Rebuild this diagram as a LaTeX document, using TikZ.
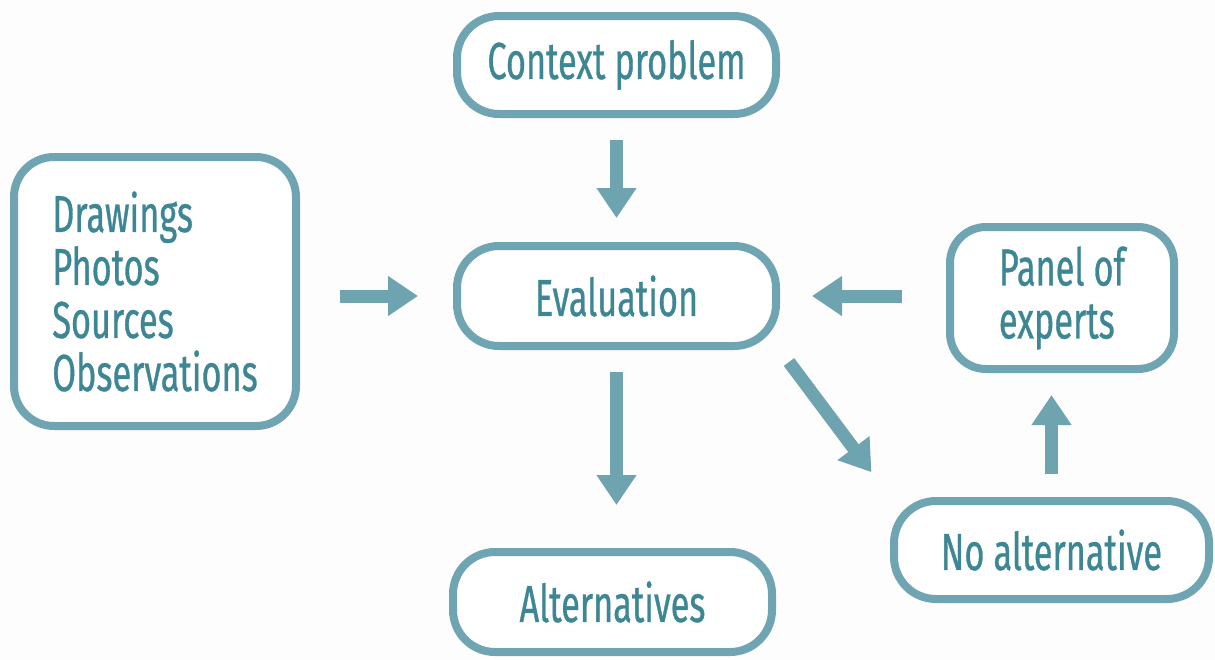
\documentclass[tikz,border=0pt]{standalone}
\usepackage{fontspec}
\setmainfont{Fira Sans}[FakeStretch=0.66, FakeBold=0.6]
\usetikzlibrary{arrows.meta}
\definecolor{frame}{HTML}{6FA5B2}
\definecolor{ink}{HTML}{3D8693}
\definecolor{arrowfill}{HTML}{6EA3B0}
\definecolor{paper}{HTML}{FDFDFD}
\tikzset{
  box/.style={draw=frame, line width=8pt, rounded corners=42pt, fill=white,
    text=ink, font=\fontsize{52}{53}\selectfont, inner sep=0pt},
  flow/.style={draw=arrowfill, line width=13pt,
    -{Triangle[width=38pt,length=30pt]}},
}
\begin{document}
\begin{tikzpicture}[x=1pt,y=-1pt]
  \fill[paper] (0,0) rectangle (1215,659);
  \useasboundingbox (0,0) rectangle (1215,659);

  \node[box, minimum width=319pt, minimum height=98pt] (ctx) at (616.5,65) {Context problem};
  \node[box, minimum width=282pt, minimum height=269pt, rounded corners=40pt, align=left] (src) at (155,291.5)
    {Drawings\\Photos\\Sources\\Observations};
  \node[box, minimum width=319pt, minimum height=100pt] (eval) at (616.5,296) {Evaluation};
  \node[box, minimum width=319pt, minimum height=100pt] (alt) at (612.5,602) {Alternatives};
  \node[box, minimum width=224pt, minimum height=142pt, rounded corners=36pt, align=left] (panel) at (1062,298)
    {Panel of\\experts};
  \node[box, minimum width=315pt, minimum height=98pt] (noalt) at (1051.5,550) {No alternative};

  \draw[flow, shorten <=22pt, shorten >=24pt] (ctx.south) -- (eval.north);
  \draw[flow, shorten <=40pt, shorten >=35pt] (src.east |- eval.west) -- (eval.west);
  \draw[flow, shorten <=22pt, shorten >=43pt] (eval.south) -- (eval.south |- alt.north);
  \draw[flow, shorten <=44pt, shorten >=32pt] (panel.west |- eval.east) -- (eval.east);
  \draw[flow, shorten <=15pt, shorten >=31pt] (eval.south east) -- (noalt.north west);
  \draw[flow, shorten <=23pt, shorten >=22pt] (noalt.north) -- (noalt.north |- panel.south);
\end{tikzpicture}
\end{document}
